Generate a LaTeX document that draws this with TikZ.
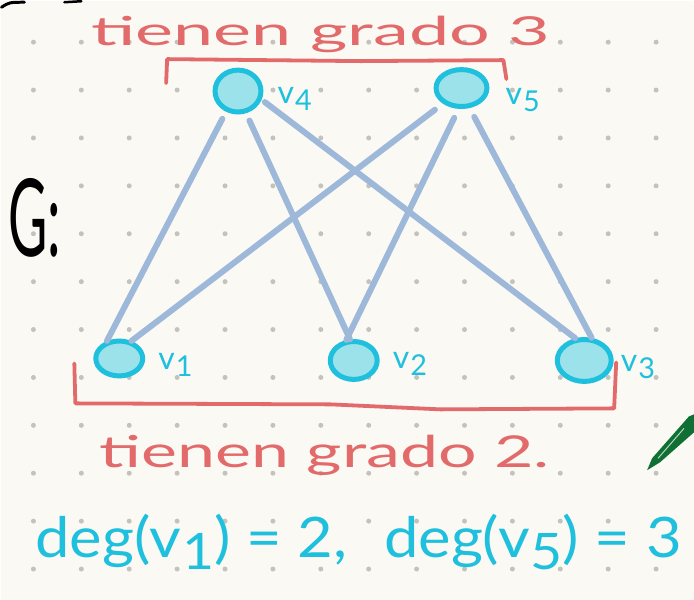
\documentclass[tikz,border=0pt]{standalone}
\usepackage{fontspec}
\setmainfont{Lato}
\usetikzlibrary{positioning, shapes.geometric}
\definecolor{paperbg}{RGB}{251,249,244}
\definecolor{gridgray}{RGB}{195,195,190}
\definecolor{vcyan}{RGB}{30,192,221}
\definecolor{vfill}{RGB}{155,226,234}
\definecolor{edgeblue}{RGB}{158,184,218}
\definecolor{notered}{RGB}{226,106,106}
\definecolor{pengreen}{RGB}{16,112,52}
\newcommand{\vsub}[2][v]{#1\kern1pt\raisebox{-0.22em}{\scalebox{0.9}{#2}}}

\begin{document}
\begin{tikzpicture}[x=1pt, y=-1pt,
    vertex/.style={ellipse, draw=vcyan, fill=vfill, line width=5pt,
      minimum width=46pt, minimum height=42pt, inner sep=0pt},
    vlabel/.style={text=vcyan, font=\fontsize{32}{32}\selectfont, inner sep=0pt},
    edge/.style={edgeblue, line width=6pt, line cap=round},
    bracket/.style={notered, line width=3.8pt, line cap=round, line join=round},
    note/.style={text=notered, inner sep=0pt, anchor=base}]
  % paper and dot grid
  \fill[paperbg] (0,0) rectangle (694,600);
  \foreach \x in {32,80,...,680} \foreach \y in {41,89,...,600} {
    \fill[gridgray] (\x,\y) circle (2.5pt);
  }
  % leftover strokes at the edges
  \draw[black, line width=3pt, line cap=round] (0,6) .. controls (8,1) .. (23,1);
  \draw[black, line width=2.5pt, line cap=round] (63,1) -- (80,0);
  % vertices
  \node[vertex] (v4) at (237,90) {};
  \node[vertex, minimum width=51pt, minimum height=37pt] (v5) at (461,87) {};
  \node[vertex, minimum width=47pt, minimum height=35pt] (v1) at (118,358) {};
  \node[vertex, minimum width=47pt, minimum height=38pt] (v2) at (353,360) {};
  \node[vertex, minimum width=54pt, minimum height=42pt] (v3) at (584,360) {};
  % labels
  \node[vlabel, right=14pt of v4, yshift=-8pt] (l4) {\vsub{4}};
  \node[vlabel, right=16pt of v5, yshift=-12pt] (l5) {\vsub{5}};
  \node[vlabel, right=13pt of v1, yshift=-6pt] (l1) {\vsub{1}};
  \node[vlabel, right=13pt of v2, yshift=-3pt] (l2) {\vsub{2}};
  \node[vlabel, right=7pt of v3, yshift=-7pt] (l3) {\vsub{3}};
  % edges
  \draw[edge, shorten <=8pt] (v4.240) -- (v1.125);
  \draw[edge, shorten <=8pt] (v4.290) -- (v2.100);
  \draw[edge, shorten <=4pt] (v4.340) -- (v3.112);
  \draw[edge, shorten <=10pt] (v5.220) -- (v1.55);
  \draw[edge, shorten <=10pt] (v5.262) -- (v2.110);
  \draw[edge, shorten <=10pt] (v5.292) -- (v3.72);
  % brackets
  \coordinate (tl) at (165,82);
  \coordinate (tr) at (506,78);
  \draw[bracket] (tl) -- (166,58) -- (360,60) -- (503,59) -- (tr);
  \coordinate (bl) at (73,363);
  \coordinate (br) at (616,362);
  \draw[bracket] (bl) -- (74,403) -- (330,404) -- (440,409) -- (614,408) -- (br);
  % notes
  \node[note, font=\fontsize{40}{40}\selectfont, xscale=1.8] (top) at (320,44) {tienen grado 3};
  \node[note, font=\fontsize{44}{44}\selectfont, xscale=1.55] (bottom) at (324,467) {tienen grado 2.};
  \node[vlabel, anchor=base, font=\fontsize{56}{56}\selectfont, xscale=1.1] (deg) at (358,557)
    {deg(\vsub{1}) = 2,\hspace{0.6em}deg(\vsub{5}) = 3};
  \node[anchor=base, inner sep=0pt, font=\fontsize{108}{108}\selectfont, xscale=0.5] (G) at (33,256) {G:};
  % green pen
  \fill[pengreen] (647,470) -- (652,458) -- (689,416) -- (694,414) -- (694,432) -- (660,462) -- cycle;
  \draw[white!70!pengreen, line width=1pt] (658,458) -- (684,428);
\end{tikzpicture}
\end{document}
